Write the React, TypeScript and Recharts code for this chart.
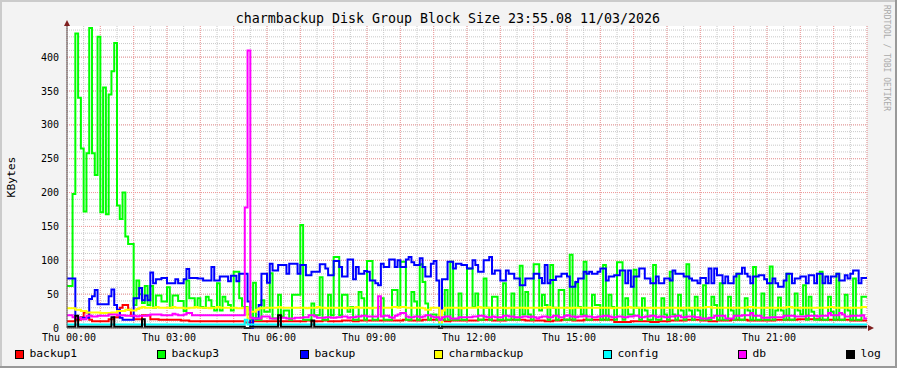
import React from 'react';
import { LineChart, Line, XAxis, YAxis, CartesianGrid } from 'recharts';

const title = 'charmbackup Disk Group Block Size 23:55.08 11/03/2026';
const yLabel = 'KBytes';
const watermark = 'RRDTOOL / TOBI OETIKER';

const xTickMinutes = [0, 180, 360, 540, 720, 900, 1080, 1260];
const xTickLabels = ['Thu 00:00', 'Thu 03:00', 'Thu 06:00', 'Thu 09:00', 'Thu 12:00', 'Thu 15:00', 'Thu 18:00', 'Thu 21:00'];
const yTicks = [0, 50, 100, 150, 200, 250, 300, 350, 400];

const seriesNames = ['backup1', 'backup3', 'backup', 'charmbackup', 'config', 'db', 'log'];
const seriesColors = ['#ff0000', '#00ff00', '#0000ff', '#ffff00', '#00ffff', '#ff00ff', '#000000'];

// 5-minute samples, 12 per hour, 00:00 .. 23:55
const backup1 = [
  10,10,10,12,12,16,23,23,12,10,10,10,
  10,10,10,13,13,16,16,30,34,34,27,18,
  13,13,13,19,19,19,13,13,13,12,12,12,
  12,12,12,12,12,11,11,11,10,10,10,10,
  10,10,10,10,10,10,10,10,10,10,10,10,
  10,10,10,10,8,8,8,10,10,10,10,10,
  10,10,10,10,10,10,10,10,10,10,10,10,
  10,10,11,11,10,10,10,10,11,11,10,10,
  10,10,10,11,11,11,11,10,10,11,11,11,
  11,11,11,11,11,11,11,11,11,11,11,11,
  11,12,12,11,11,11,11,11,12,12,12,12,
  12,12,12,12,10,10,11,11,11,11,11,11,
  11,11,11,11,12,12,12,12,12,11,11,11,
  11,11,12,12,12,12,12,12,12,11,11,11,
  11,11,11,11,10,10,10,11,11,11,12,12,
  12,12,11,11,11,11,12,12,12,12,12,12,
  12,12,12,12,12,9,9,9,9,9,9,10,
  10,10,10,10,10,10,9,9,9,10,10,10,
  10,11,11,11,11,11,11,12,12,12,12,12,
  11,11,11,10,10,10,11,11,11,11,11,12,
  12,12,12,12,12,11,11,11,11,11,11,11,
  11,11,11,12,12,12,12,12,12,12,12,13,
  13,13,13,13,13,13,13,12,12,12,12,12,
  12,12,12,12,12,12,11,11,11,11,11,11,
];

const backup3 = [
  62,62,198,435,340,265,172,258,443,258,226,430,
  171,355,168,345,379,421,181,161,200,135,124,124,
  34,70,50,37,62,34,62,30,48,48,39,39,
  60,30,48,48,40,40,25,70,44,44,31,44,
  31,30,46,41,31,26,66,26,46,39,34,26,
  83,83,44,31,31,20,12,67,12,12,41,24,
  24,81,14,14,49,17,26,26,12,49,49,49,
  152,12,12,12,36,19,19,75,12,12,49,19,
  105,105,19,49,49,24,31,12,12,53,44,12,
  99,99,12,12,31,44,12,12,12,56,56,31,
  98,98,12,12,53,39,12,94,68,36,12,20,
  20,12,12,12,56,12,98,12,12,51,12,12,
  88,88,31,51,12,12,73,30,12,46,46,12,
  12,66,12,12,51,12,12,92,20,53,20,12,
  94,94,26,49,34,12,93,30,12,56,56,12,
  12,108,12,66,31,20,98,12,12,49,34,34,
  12,93,12,49,31,12,97,97,12,44,20,20,
  86,30,12,44,26,12,12,93,12,12,44,20,
  12,83,20,12,49,26,12,94,26,12,46,26,
  12,63,12,12,46,34,12,66,12,12,46,26,
  12,80,12,12,44,26,12,90,12,12,51,12,
  12,91,12,26,45,26,12,80,12,12,51,26,
  20,63,12,46,24,12,12,83,12,12,46,24,
  12,80,12,12,49,26,12,73,12,12,46,46,
];

const backup = [
  73,73,73,15,15,15,15,15,43,47,56,35,
  35,35,35,47,57,34,27,15,12,12,12,12,
  44,44,59,41,48,41,82,66,72,72,74,74,
  66,66,66,72,66,66,72,87,74,74,74,73,
  73,70,70,70,90,70,70,76,76,76,69,77,
  77,69,80,80,80,39,0,14,14,34,80,80,
  67,95,85,85,93,93,93,80,95,95,95,80,
  93,93,78,78,83,83,83,94,94,88,78,78,
  99,99,90,76,76,101,101,72,90,80,80,84,
  83,70,70,66,63,95,90,90,101,101,90,100,
  90,90,101,105,97,93,93,103,90,76,76,95,
  99,70,0,72,72,98,98,88,95,95,93,93,
  88,88,100,93,83,83,100,100,105,80,85,85,
  70,70,85,80,80,73,73,63,63,73,73,73,
  80,80,74,66,93,66,71,71,76,76,80,80,
  76,61,61,68,73,73,83,80,83,80,80,83,
  88,88,70,76,76,78,78,85,85,66,85,61,
  76,76,88,88,73,73,66,66,76,66,66,73,
  73,70,85,80,80,80,76,76,73,70,70,66,
  74,74,66,88,66,88,78,78,66,76,66,66,
  76,80,80,89,80,76,66,76,76,78,78,72,
  66,66,73,66,61,61,70,80,80,66,73,73,
  76,76,66,78,78,66,80,80,66,76,66,76,
  76,80,70,70,78,73,80,85,85,66,74,74,
];

const charmbackup = [
  29,29,29,27,27,25,25,23,23,23,23,23,
  22,22,22,22,23,23,25,25,25,27,27,26,
  26,28,30,31,30,30,30,30,31,30,30,30,
  30,30,31,30,30,30,29,29,30,30,31,30,
  30,30,30,29,30,30,31,30,30,30,30,30,
  30,29,29,30,30,14,24,24,27,29,29,30,
  30,30,30,30,31,30,30,30,30,30,30,30,
  30,30,29,30,30,30,31,30,30,29,30,30,
  30,30,30,30,29,30,30,30,31,30,30,30,
  30,29,30,30,30,30,30,30,30,31,31,30,
  31,31,30,30,30,30,30,30,29,27,27,30,
  30,30,5,26,30,30,30,30,30,30,29,30,
  30,30,30,30,31,30,30,30,30,30,30,30,
  30,30,29,30,30,30,30,30,30,29,30,30,
  30,30,30,30,30,31,30,30,30,30,30,30,
  30,29,30,30,30,30,30,30,30,30,30,30,
  30,30,30,30,29,30,30,30,30,30,31,30,
  30,30,30,30,30,30,30,29,30,30,30,30,
  30,30,30,30,29,30,30,30,30,30,30,30,
  30,30,31,31,30,30,30,30,30,30,30,30,
  30,30,30,30,30,31,31,30,30,30,30,30,
  30,30,30,30,30,30,30,31,31,30,30,30,
  30,30,30,30,30,30,30,30,30,30,31,31,
  30,30,30,30,30,30,30,30,30,30,31,31,
];

const config = [
  5,5,5,5,5,5,5,5,5,5,5,5,
  5,5,5,5,5,5,5,5,5,5,5,5,
  5,5,5,5,5,5,5,5,5,5,5,5,
  5,5,5,5,5,5,5,5,5,5,5,5,
  5,5,5,5,5,5,5,5,5,5,5,5,
  5,5,5,5,12,5,5,5,5,5,5,5,
  5,5,5,5,5,5,5,5,5,5,5,5,
  5,5,5,5,5,5,5,5,5,5,5,5,
  5,5,5,5,5,5,5,5,5,5,5,5,
  5,5,5,5,5,5,5,5,5,5,5,5,
  5,5,5,5,5,5,5,5,5,5,5,5,
  5,5,5,5,5,5,5,5,5,5,5,5,
  5,5,5,5,5,5,5,5,5,5,5,5,
  5,5,5,5,5,5,5,5,5,5,5,5,
  5,5,5,5,5,5,5,5,5,5,5,5,
  5,5,5,5,5,5,5,5,5,5,5,5,
  5,5,5,5,5,5,5,5,5,5,5,5,
  5,5,5,5,5,5,5,5,5,5,5,5,
  5,5,5,5,5,5,5,5,5,5,5,5,
  5,5,5,5,5,5,5,5,5,5,5,5,
  5,5,5,5,5,5,5,5,5,5,5,5,
  5,5,5,5,5,5,5,5,5,5,5,5,
  5,5,5,5,5,5,5,5,5,5,5,5,
  5,5,5,5,5,5,5,5,5,5,5,5,
];

const db = [
  19,19,16,15,15,13,13,18,18,17,17,18,
  18,18,18,20,20,20,19,19,19,18,18,18,
  18,17,18,18,18,19,20,20,20,20,19,19,
  19,19,21,20,19,19,20,22,22,19,19,19,
  19,19,19,19,19,19,19,19,19,19,19,19,
  19,19,19,19,178,410,15,14,14,14,17,17,
  17,14,14,14,15,15,15,14,14,14,15,15,
  15,16,16,19,19,17,15,15,15,16,16,15,
  15,16,16,17,17,15,16,16,17,17,18,18,
  17,17,17,17,47,17,18,18,16,15,18,20,
  22,22,17,16,16,17,17,16,17,19,19,17,
  16,16,12,16,17,17,14,14,14,16,16,16,
  16,16,17,17,18,18,17,16,16,17,16,16,
  16,18,18,17,17,16,16,16,17,17,16,17,
  16,14,16,17,17,16,16,18,18,16,16,18,
  19,17,17,16,17,17,18,17,17,16,16,17,
  17,18,18,17,16,16,17,17,16,16,17,17,
  18,18,16,16,17,17,18,18,16,17,17,16,
  16,17,17,18,18,16,16,17,17,17,16,16,
  14,14,14,15,15,18,18,18,18,14,14,14,
  18,18,18,19,19,19,22,18,18,18,15,15,
  15,16,16,16,16,16,18,18,18,18,17,17,
  17,17,18,18,18,18,17,18,18,18,22,19,
  19,19,22,20,17,17,18,18,18,18,19,14,
];

const log = [
  2,2,2,18,2,2,2,2,2,2,2,2,
  2,2,2,2,16,2,2,2,2,2,2,2,
  2,2,2,13,2,2,2,2,2,2,2,2,
  2,2,2,2,2,2,2,2,2,2,2,2,
  2,2,2,2,2,2,2,2,2,2,2,2,
  2,2,2,2,0,0,2,2,2,2,2,2,
  2,2,2,2,19,2,2,2,2,2,2,2,
  2,2,2,2,11,2,2,2,2,2,2,2,
  2,2,2,2,2,2,2,2,2,2,2,2,
  2,2,2,2,2,2,2,2,2,2,2,2,
  2,2,2,2,2,2,2,2,2,2,2,2,
  2,2,0,2,2,2,2,2,2,2,2,2,
  2,2,2,2,2,2,2,2,2,2,2,2,
  2,2,2,2,2,2,2,2,2,2,2,2,
  2,2,2,2,2,2,2,2,2,2,2,2,
  2,2,2,2,2,2,2,2,2,2,2,2,
  2,2,2,2,2,2,2,2,2,2,2,2,
  2,2,2,2,2,2,2,2,2,2,2,2,
  2,2,2,2,2,2,2,2,2,2,2,2,
  2,2,2,2,2,2,2,2,2,2,2,2,
  2,2,2,2,2,2,2,2,2,2,2,2,
  2,2,2,2,2,2,2,2,2,2,2,2,
  2,2,2,2,2,2,2,2,2,2,2,2,
  2,2,2,2,2,2,2,2,2,2,2,2,
];

const seriesValues = [backup1, backup3, backup, charmbackup, config, db, log];

// Step end: each 5-minute sample spans [t, t+5); final row closes the last step at 24:00.
const rows = Array.from({ length: backup1.length + 1 }, (_, i) => {
  const k = Math.min(i, backup1.length - 1);
  const row: Record<string, number> = { t: i * 5 };
  seriesNames.forEach((n, s) => {
    row[n] = seriesValues[s][k];
  });
  return row;
});

const minorX = Array.from({ length: 49 }, (_, i) => i * 30);
const majorX = Array.from({ length: 25 }, (_, i) => i * 60);
const minorY = Array.from({ length: 45 }, (_, i) => i * 10);
const majorY = Array.from({ length: 9 }, (_, i) => i * 50);

const FONT = '"DejaVu Sans Mono", monospace';
const legendX = [15, 157, 300, 434, 603, 738, 846];

function Overlay() {
  return (
    <svg width={897} height={368} style={{ position: 'absolute', left: 0, top: 0, pointerEvents: 'none' }}>
      <rect x={0} y={0} width={897} height={2} fill="#cbcbcb" />
      <rect x={0} y={0} width={2} height={368} fill="#cbcbcb" />
      <rect x={0} y={366} width={897} height={2} fill="#999999" />
      <rect x={895} y={0} width={2} height={368} fill="#999999" />
      <text x={448} y={23} textAnchor="middle" fontFamily={FONT} fontSize={13.3} fill="#000">{title}</text>
      <text transform="translate(15,177) rotate(-90)" textAnchor="middle" fontFamily={FONT} fontSize={11.3} fill="#000">{yLabel}</text>
      <text transform="translate(884,5) rotate(90)" fontFamily={FONT} fontSize={8} fill="#aaaaaa">{watermark}</text>
      <polygon points="64,26 70,26 67,20" fill="#7f1f1f" />
      <polygon points="868,325 868,331 874,328" fill="#7f1f1f" />
      {seriesNames.map((n, i) => (
        <g key={n}>
          <rect x={legendX[i] + 0.5} y={350.5} width={8} height={8} fill={seriesColors[i]} stroke="#000" strokeWidth={1} />
          <text x={legendX[i] + 14.5} y={357} fontFamily={FONT} fontSize={11.3} fill="#000">{n}</text>
        </g>
      ))}
    </svg>
  );
}

export default function App() {
  return (
    <div style={{ position: 'absolute', left: 0, top: 0, width: 897, height: 368, background: '#f3f3f3' }}>
      <LineChart width={897} height={368} data={rows} margin={{ top: 26, right: 30, bottom: 10, left: 0 }}>
        <CartesianGrid fill="#ffffff" stroke="#c8c8c8" strokeDasharray="1 1" horizontalValues={minorY} verticalValues={minorX} />
        <CartesianGrid stroke="#f29a9a" strokeDasharray="1 1" horizontalValues={majorY} verticalValues={majorX} />
        <XAxis
          dataKey="t"
          type="number"
          domain={[0, 1440]}
          ticks={xTickMinutes}
          interval={0}
          tickFormatter={(v: number) => xTickLabels[xTickMinutes.indexOf(v)] ?? ''}
          height={30}
          tickLine={false}
          tickSize={4}
          tickMargin={2}
          axisLine={{ stroke: '#555555' }}
          tick={{ fontFamily: FONT, fontSize: 10, fill: '#000', dx: 2 }}
        />
        <YAxis
          type="number"
          domain={[0, 446]}
          ticks={yTicks}
          interval={0}
          width={67}
          tickLine={false}
          tickSize={6}
          tickMargin={2}
          axisLine={{ stroke: '#555555' }}
          tick={{ fontFamily: FONT, fontSize: 10, fill: '#000' }}
        />
        {seriesNames.map((n, i) => (
          <Line
            key={n}
            dataKey={n}
            type="stepAfter"
            stroke={seriesColors[i]}
            strokeWidth={2}
            strokeLinejoin="miter"
            dot={false}
            activeDot={false}
            isAnimationActive={false}
          />
        ))}
      </LineChart>
      <Overlay />
    </div>
  );
}
